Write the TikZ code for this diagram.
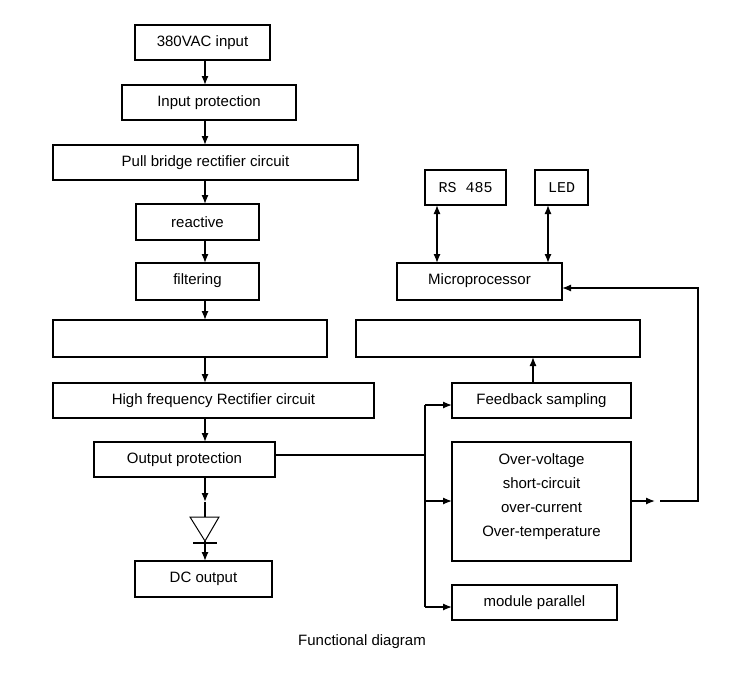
\documentclass[tikz,border=0pt]{standalone}
\usepackage{fontspec}
\setmainfont{Liberation Sans}
\newfontfamily\monof{Liberation Mono}
\usetikzlibrary{arrows.meta}
\begin{document}
\begin{tikzpicture}[x=1pt,y=-1pt,line width=1.3pt,
  box/.style={draw,line width=1.3pt,inner sep=0pt},
  lab/.style={font=\fontsize{15}{24}\selectfont},
  arr/.style={-{Latex[length=9pt,width=7pt]}},
  darr/.style={{Latex[length=9pt,width=7pt]}-{Latex[length=9pt,width=7pt]}}]
\useasboundingbox (0,0) rectangle (736,675);
\newcommand{\bx}[6]{\draw[box] (#2,#3) rectangle (#4,#5); \node[lab] (#1) at ({(#2+#4)/2},{(#3+#5)/2}) {#6};}
\bx{ac}{135}{25}{270}{60}{380VAC input}
\bx{ip}{122}{85}{296}{120}{Input protection}
\bx{pb}{53}{145}{358}{180}{Pull bridge rectifier circuit}
\bx{re}{136}{204}{259}{240}{reactive}
\draw[box] (136,263) rectangle (259,300); \node[lab] (fi) at (197.5,281) {filtering};
\draw[box] (53,320) rectangle (327,357);
\bx{hf}{53}{383}{374}{418}{High frequency Rectifier circuit}
\bx{op}{94}{442}{275}{477}{Output protection}
\bx{dc}{135}{561}{272}{597}{DC output}
\draw[box] (425,170) rectangle (506,205); \node[font=\monof\fontsize{15}{17}\selectfont] (rs) at (465.5,187.5) {RS 485};
\draw[box] (535,170) rectangle (588,205); \node[font=\monof\fontsize{15}{17}\selectfont] (led) at (561.5,187.5) {LED};
\draw[box] (397,263) rectangle (562,300); \node[lab] (mp) at (479.5,281) {Microprocessor};
\draw[box] (356,320) rectangle (640,357);
\bx{fb}{452}{383}{631}{418}{Feedback sampling}
\draw[box] (452,442) rectangle (631,561);
\node[lab,align=center] (pr) at (541.5,497) {Over-voltage\\short-circuit\\over-current\\Over-temperature};
\bx{mo}{452}{585}{617}{620}{module parallel}
% left chain
\draw[arr] (205,60) -- (205,85);
\draw[arr] (205,120) -- (205,145);
\draw[arr] (205,180) -- (205,204);
\draw[arr] (205,240) -- (205,263);
\draw[arr] (205,300) -- (205,320);
\draw[arr] (205,357) -- (205,383);
\draw[arr] (205,418) -- (205,442);
\draw[arr] (205,477) -- (205,502);
\coordinate (d1) at (190,517); \coordinate (d2) at (219,517); \coordinate (d3) at (205,541);
\draw[line width=1pt] (d1) -- (d2) -- (d3) -- cycle;
\draw (193,543) -- (217,543);
\draw (205,502) -- (205,517);
\draw[arr] (205,541) -- (205,561);
% bus
\draw (275,455) -- (425,455);
\draw (425,405) -- (425,607);
\draw[arr] (425,405) -- (452,405);
\draw[arr] (425,501) -- (452,501);
\draw[arr] (425,607) -- (452,607);
\draw[arr] (533,383) -- (533,357);
\draw[arr] (631,501) -- (655,501);
\draw (660,501) -- (698,501) -- (698,288) -- (590,288);
\draw[arr] (590,288) -- (562,288);
\draw[darr] (437,205) -- (437,263);
\draw[darr] (548,205) -- (548,263);
\node[lab] (cap) at (362,642) {Functional diagram};
\end{tikzpicture}
\end{document}
